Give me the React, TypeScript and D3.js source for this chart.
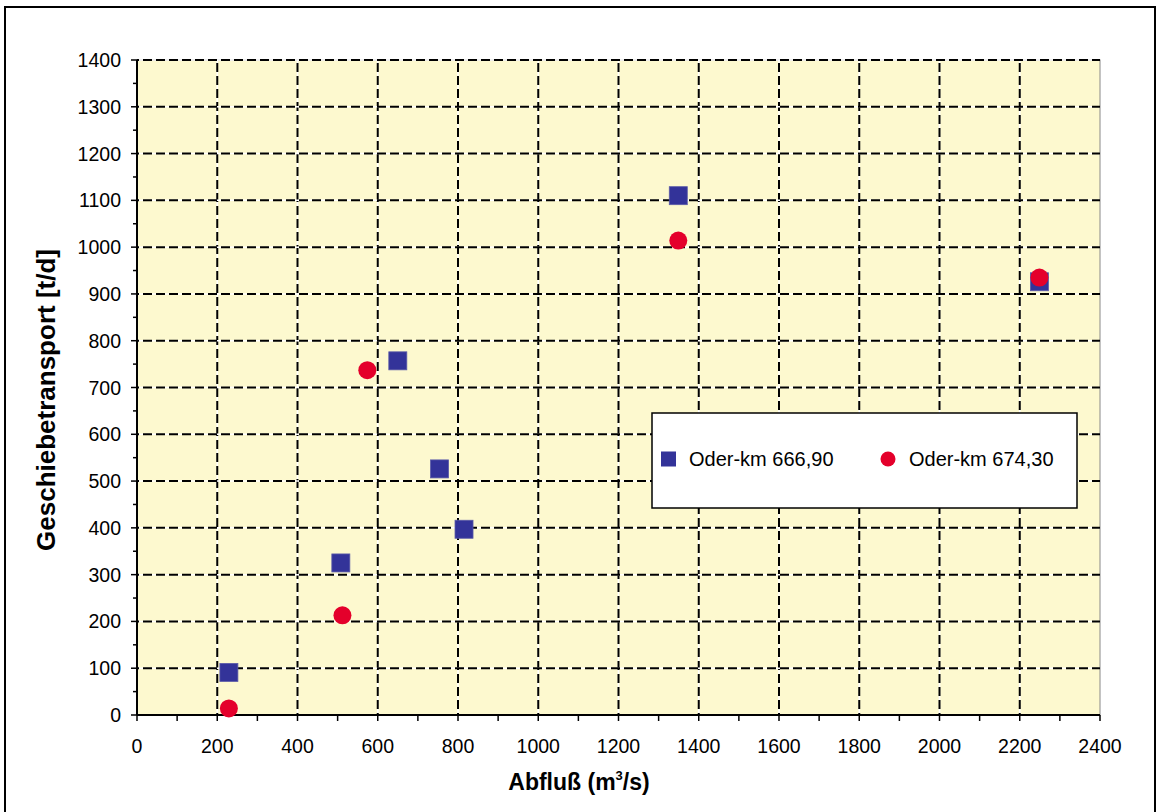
import React from "react";
import * as d3 from "d3";

const seriesA = "Oder-km 666,90";
const seriesB = "Oder-km 674,30";
const abflussA = [229, 508, 650, 754, 815, 1349, 2249];
const transportA = [91, 325, 757, 526, 397, 1110, 926];
const abflussB = [229, 512, 574, 1349, 2249];
const transportB = [14, 213, 737, 1014, 935];
const xTicks = d3.range(0, 2401, 200);
const xMinor = d3.range(0, 2401, 100);
const yTicks = d3.range(0, 1401, 100);
const yMinor = d3.range(0, 1401, 50);

const W = 1158, H = 812;
const L = 137, R = 1100, T = 60, B = 715;
const FONT = "'Liberation Sans', Arial, sans-serif";

export default function App() {
  const x = d3.scaleLinear().domain([0, 2400]).range([L, R]);
  const y = d3.scaleLinear().domain([0, 1400]).range([B, T]);
  const sq = 18;
  return (
    <svg width={W} height={H} style={{ position: "absolute", left: 0, top: 0, background: "#fff" }} fontFamily={FONT}>
      <rect x={5} y={7} width={1150} height={820} fill="#fff" stroke="#000" strokeWidth={2} />
      <rect x={L} y={T} width={R - L} height={B - T} fill="#FDF9CF" stroke="#888" strokeWidth={1} />
      {/* gridlines */}
      {xTicks.filter(v => v > 0 && v < 2400).map(v => (
        <g key={"gx" + v}>
          <line x1={x(v)} x2={x(v)} y1={T} y2={B} stroke="#fff" strokeWidth={1.5} />
          <line x1={x(v)} x2={x(v)} y1={B} y2={T} stroke="#000" strokeWidth={2} strokeDasharray="9,4" strokeDashoffset={-6} />
        </g>
      ))}
      {yTicks.filter(v => v > 0).map(v => (
        <g key={"gy" + v}>
          <line x1={L} x2={R} y1={y(v)} y2={y(v)} stroke="#fff" strokeWidth={1.5} />
          <line x1={L} x2={R} y1={y(v)} y2={y(v)} stroke="#000" strokeWidth={2} strokeDasharray="9,4" strokeDashoffset={-6} />
        </g>
      ))}
      {/* axes */}
      <line x1={L} x2={L} y1={T} y2={B} stroke="#000" strokeWidth={2} />
      <line x1={L} x2={R} y1={B} y2={B} stroke="#000" strokeWidth={2} />
      {yMinor.map(v => (
        <line key={"ty" + v} x1={v % 100 === 0 ? L - 6 : L - 4} x2={L} y1={y(v)} y2={y(v)} stroke="#000" strokeWidth={1.5} />
      ))}
      {xMinor.map(v => (
        <line key={"tx" + v} x1={x(v)} x2={x(v)} y1={B} y2={B + 6} stroke="#000" strokeWidth={1.5} />
      ))}
      {yTicks.map(v => (
        <text key={"ly" + v} x={L - 16} y={y(v) + 7} textAnchor="end" fontSize={19.5} fill="#000">{v}</text>
      ))}
      {xTicks.map(v => (
        <text key={"lx" + v} x={x(v)} y={753} textAnchor="middle" fontSize={19.5} fill="#000">{v}</text>
      ))}
      {/* titles */}
      <text x={579} y={790} textAnchor="middle" fontSize={23} fontWeight="bold">
        Abfluß (m<tspan fontSize={13} dy={-10}>3</tspan><tspan dy={10}>/s)</tspan>
      </text>
      <text transform={`translate(55,400) rotate(-90)`} textAnchor="middle" fontSize={26} fontWeight="bold">
        Geschiebetransport [t/d]
      </text>
      {/* data */}
      {abflussA.map((v, i) => (
        <rect key={"a" + i} x={x(v) - sq / 2} y={y(transportA[i]) - sq / 2} width={sq} height={sq} fill="#333399" stroke="#5a5aa8" strokeWidth={0.8} />
      ))}
      {abflussB.map((v, i) => (
        <circle key={"b" + i} cx={x(v)} cy={y(transportB[i])} r={9} fill="#E4002B" />
      ))}
      {/* legend */}
      <rect x={652} y={413} width={425} height={95} fill="#fff" stroke="#000" strokeWidth={1.5} />
      <rect x={661} y={451.5} width={15} height={15} fill="#333399" />
      <text x={689} y={466} fontSize={20}>{seriesA}</text>
      <circle cx={888} cy={459} r={7.5} fill="#E4002B" />
      <text x={909} y={466} fontSize={20}>{seriesB}</text>
    </svg>
  );
}
